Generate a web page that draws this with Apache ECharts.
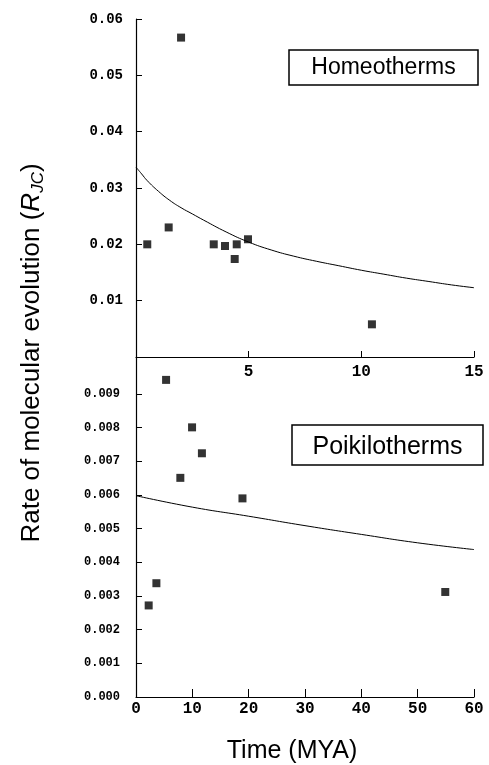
<!DOCTYPE html>
<html>
<head>
<meta charset="utf-8">
<script src="https://cdn.jsdelivr.net/npm/echarts@6/dist/echarts.min.js"></script>
<style>
  html, body { margin: 0; padding: 0; background: #fff; }
  #chart { width: 489px; height: 765px; }
</style>
</head>
<body>
<div id="chart"></div>
<script>
// homeotherms (top panel)
var homeoTime = [2.0, 0.5, 1.45, 3.45, 3.95, 4.38, 4.47, 4.97, 10.47];
var homeoRate = [0.0567, 0.0200, 0.0230, 0.0200, 0.0197, 0.0174, 0.0200, 0.0209, 0.0058];
var homeoFitTime = [0, 0.25, 0.5, 1, 1.5, 2, 2.5, 3, 4, 5, 6, 7, 8, 9, 10, 11, 12, 13, 14, 15];
var homeoFitRate = [0.0337, 0.0325, 0.0313, 0.0294, 0.0278, 0.0265, 0.0254, 0.0243, 0.0222, 0.0204,
  0.0190, 0.0179, 0.0170, 0.0162, 0.0154, 0.0147, 0.0140, 0.0134, 0.0128, 0.0123];

// poikilotherms (bottom panel)
var poikiloTime = [5.34, 9.95, 11.7, 7.87, 18.9, 2.25, 3.62, 54.9];
var poikiloRate = [0.00942, 0.00801, 0.00724, 0.00651, 0.00590, 0.00272, 0.00338, 0.00312];
var poikiloFitTime = [0, 10, 20, 30, 40, 50, 60];
var poikiloFitRate = [0.00598, 0.00564, 0.00537, 0.00509, 0.00483, 0.00458, 0.00438];

// tick labels
var topXTicks = [5, 10, 15];
var topYTicks = [0.01, 0.02, 0.03, 0.04, 0.05, 0.06];
var bottomXTicks = [0, 10, 20, 30, 40, 50, 60];
var bottomYTicks = [0, 0.001, 0.002, 0.003, 0.004, 0.005, 0.006, 0.007, 0.008, 0.009];

function pairs(xs, ys) {
  var out = [];
  for (var i = 0; i < xs.length; i++) out.push([xs[i], ys[i]]);
  return out;
}

var monoBold = { fontFamily: 'Liberation Mono', fontWeight: 'bold', color: '#000' };
var blackLine = { lineStyle: { color: '#000', width: 1.2 } };

var chart = echarts.init(document.getElementById('chart'));
var option = {
  animation: false,
  backgroundColor: '#fff',
  grid: [
    { left: 136, top: 19, width: 338, height: 338 },
    { left: 136, top: 357, width: 338, height: 340 }
  ],
  xAxis: [{
    gridIndex: 0, type: 'value', min: 0, max: 15,
    splitLine: { show: false },
    axisLine: blackLine,
    axisTick: { inside: true, length: 6, customValues: topXTicks, lineStyle: { color: '#000' } },
    axisLabel: Object.assign({ fontSize: 16, margin: 7, customValues: topXTicks }, monoBold)
  }, {
    gridIndex: 1, type: 'value', min: 0, max: 60,
    splitLine: { show: false },
    axisLine: blackLine,
    axisTick: { inside: true, length: 8, customValues: bottomXTicks, lineStyle: { color: '#000' } },
    axisLabel: Object.assign({ fontSize: 16, margin: 4, customValues: bottomXTicks }, monoBold)
  }],
  yAxis: [{
    gridIndex: 0, type: 'value', min: 0, max: 0.06,
    splitLine: { show: false },
    axisLine: Object.assign({ show: true }, blackLine),
    axisTick: { show: true, inside: true, length: 6, customValues: topYTicks, lineStyle: { color: '#000' } },
    axisLabel: Object.assign({
      fontSize: 14, margin: 13, customValues: topYTicks,
      formatter: function (v) { return v.toFixed(2); }
    }, monoBold)
  }, {
    gridIndex: 1, type: 'value', min: 0, max: 0.0101,
    splitLine: { show: false },
    axisLine: Object.assign({ show: true }, blackLine),
    axisTick: { show: true, inside: true, length: 6, customValues: bottomYTicks, lineStyle: { color: '#000' } },
    axisLabel: Object.assign({
      fontSize: 12, margin: 16, customValues: bottomYTicks,
      formatter: function (v) { return v.toFixed(3); }
    }, monoBold)
  }],
  series: [{
    name: 'Homeotherms', type: 'scatter', xAxisIndex: 0, yAxisIndex: 0,
    symbol: 'rect', symbolSize: 8, itemStyle: { color: '#000' },
    data: pairs(homeoTime, homeoRate)
  }, {
    name: 'Homeotherms fit', type: 'line', xAxisIndex: 0, yAxisIndex: 0,
    showSymbol: false, smooth: true, lineStyle: { color: '#000', width: 1 },
    data: pairs(homeoFitTime, homeoFitRate)
  }, {
    name: 'Poikilotherms', type: 'scatter', xAxisIndex: 1, yAxisIndex: 1,
    symbol: 'rect', symbolSize: 8, itemStyle: { color: '#000' },
    data: pairs(poikiloTime, poikiloRate)
  }, {
    name: 'Poikilotherms fit', type: 'line', xAxisIndex: 1, yAxisIndex: 1,
    showSymbol: false, smooth: true, lineStyle: { color: '#000', width: 1 },
    data: pairs(poikiloFitTime, poikiloFitRate)
  }],
  graphic: [
    // panel boxes
    { type: 'rect', shape: { x: 289, y: 50, width: 189, height: 35 },
      style: { fill: '#fff', stroke: '#000', lineWidth: 1.5 } },
    { type: 'text', x: 383.5, y: 68,
      style: { text: 'Homeotherms', fontFamily: 'Liberation Sans', fontSize: 23,
        fill: '#000', align: 'center', verticalAlign: 'middle' } },
    { type: 'rect', shape: { x: 292, y: 425, width: 191, height: 40 },
      style: { fill: '#fff', stroke: '#000', lineWidth: 1.5 } },
    { type: 'text', x: 387.5, y: 447,
      style: { text: 'Poikilotherms', fontFamily: 'Liberation Sans', fontSize: 25,
        fill: '#000', align: 'center', verticalAlign: 'middle' } },
    // axis titles
    { type: 'text', x: 292, y: 751,
      style: { text: 'Time (MYA)', fontFamily: 'Liberation Sans', fontSize: 25,
        fill: '#000', align: 'center', verticalAlign: 'middle' } },
    { type: 'text', x: 32, y: 353, rotation: Math.PI / 2,
      style: {
        text: 'Rate of molecular evolution ({i|R}{sub|JC})',
        fontFamily: 'Liberation Sans', fontSize: 26, fill: '#000',
        align: 'center', verticalAlign: 'middle',
        rich: {
          i: { fontFamily: 'Liberation Sans', fontSize: 26, fontStyle: 'italic', fill: '#000', lineHeight: 30 },
          sub: { fontFamily: 'Liberation Sans', fontSize: 17, fontStyle: 'italic', fill: '#000', verticalAlign: 'bottom', lineHeight: 17 }
        }
      } }
  ]
};
chart.setOption(option);
</script>
</body>
</html>
